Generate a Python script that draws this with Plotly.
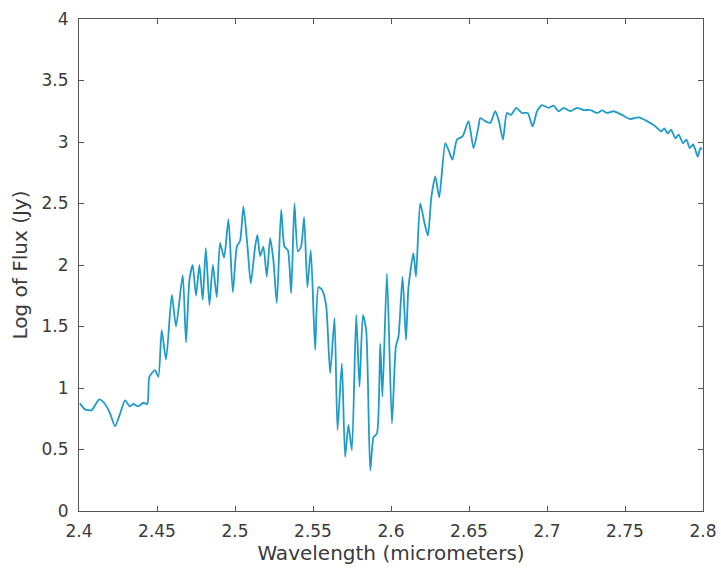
import plotly.graph_objects as go

wavelength = [
    2.4006, 2.4038, 2.4081, 2.4130, 2.4167, 2.4199, 2.4231, 2.4263, 2.4295, 2.4327,
    2.4348, 2.4380, 2.4412, 2.4438, 2.4451, 2.4487, 2.4509, 2.4530, 2.4558, 2.4595,
    2.4622, 2.4665, 2.4686, 2.4708, 2.4729, 2.4750, 2.4772, 2.4793, 2.4813, 2.4836,
    2.4858, 2.4883, 2.4904, 2.4930, 2.4958, 2.4986, 2.5012, 2.5033, 2.5054, 2.5080,
    2.5101, 2.5129, 2.5144, 2.5161, 2.5182, 2.5204, 2.5225, 2.5246, 2.5268, 2.5296,
    2.5317, 2.5339, 2.5360, 2.5381, 2.5403, 2.5424, 2.5443, 2.5464, 2.5486, 2.5514,
    2.5535, 2.5557, 2.5584, 2.5610, 2.5638, 2.5657, 2.5685, 2.5706, 2.5727, 2.5749,
    2.5777, 2.5798, 2.5820, 2.5841, 2.5867, 2.5888, 2.5910, 2.5931, 2.5945, 2.5974,
    2.6006, 2.6031, 2.6048, 2.6074, 2.6096, 2.6112, 2.6144, 2.6160, 2.6187, 2.6215,
    2.6237, 2.6258, 2.6284, 2.6309, 2.6348, 2.6373, 2.6394, 2.6423, 2.6459, 2.6497,
    2.6529, 2.6561, 2.6572, 2.6604, 2.6636, 2.6668, 2.6690, 2.6718, 2.6743, 2.6769,
    2.6803, 2.6840, 2.6876, 2.6908, 2.6936, 2.6968, 2.7010, 2.7042, 2.7074, 2.7107,
    2.7150, 2.7192, 2.7235, 2.7278, 2.7321, 2.7353, 2.7385, 2.7427, 2.7481, 2.7534,
    2.7588, 2.7641, 2.7695, 2.7731, 2.7752, 2.7774, 2.7795, 2.7823, 2.7844, 2.7872,
    2.7894, 2.7915, 2.7936, 2.7951, 2.7966, 2.7983, 2.7994,
]

log_flux = [
    0.875, 0.826, 0.820, 0.907, 0.870, 0.793, 0.690, 0.790, 0.900, 0.850,
    0.870, 0.850, 0.880, 0.870, 1.090, 1.146, 1.090, 1.470, 1.230, 1.757,
    1.500, 1.920, 1.370, 1.880, 2.000, 1.750, 2.000, 1.716, 2.137, 1.675,
    2.000, 1.740, 2.180, 2.060, 2.370, 1.780, 2.150, 2.200, 2.476, 2.150,
    1.850, 2.150, 2.245, 2.070, 2.150, 1.905, 2.218, 2.040, 1.690, 2.450,
    2.150, 2.120, 1.770, 2.500, 2.110, 2.150, 2.390, 1.820, 2.120, 1.310,
    1.820, 1.800, 1.675, 1.120, 1.567, 0.657, 1.200, 0.440, 0.700, 0.494,
    1.594, 1.010, 1.594, 1.470, 0.330, 0.600, 0.630, 1.360, 0.930, 1.930,
    0.710, 1.335, 1.417, 1.906, 1.390, 1.820, 2.096, 1.905, 2.503, 2.340,
    2.240, 2.544, 2.720, 2.550, 2.990, 2.920, 2.856, 3.020, 3.046, 3.170,
    2.950, 3.127, 3.195, 3.170, 3.155, 3.250, 3.180, 3.020, 3.236, 3.220,
    3.277, 3.236, 3.236, 3.127, 3.250, 3.300, 3.277, 3.295, 3.250, 3.277,
    3.250, 3.277, 3.260, 3.260, 3.236, 3.257, 3.236, 3.250, 3.220, 3.187,
    3.200, 3.170, 3.127, 3.086, 3.110, 3.070, 3.100, 3.030, 3.060, 2.990,
    3.020, 2.950, 2.980, 2.937, 2.880, 2.950, 2.940,
]

x_ticks = [2.4, 2.45, 2.5, 2.55, 2.6, 2.65, 2.7, 2.75, 2.8]
x_tick_labels = ["2.4", "2.45", "2.5", "2.55", "2.6", "2.65", "2.7", "2.75", "2.8"]
y_ticks = [0, 0.5, 1, 1.5, 2, 2.5, 3, 3.5, 4]
y_tick_labels = ["0", "0.5", "1", "1.5", "2", "2.5", "3", "3.5", "4"]

fig = go.Figure()
fig.add_trace(go.Scatter(
    x=wavelength, y=log_flux, mode="lines",
    line=dict(color="#1f9bc9", width=1.8, shape="spline", smoothing=0.6),
    showlegend=False, hoverinfo="x+y",
))

axis_common = dict(
    showgrid=False, zeroline=False, showline=True, linecolor="#555555", linewidth=1.2,
    mirror="ticks", ticks="inside", ticklen=5, tickwidth=1, tickcolor="#555555",
    tickfont=dict(family="DejaVu Sans", size=17, color="#3a3a3a"),
    automargin=False,
)

fig.update_layout(
    width=721, height=574,
    margin=dict(l=79, r=18, t=19, b=63),
    paper_bgcolor="white", plot_bgcolor="white",
    xaxis=dict(
        range=[2.4, 2.8], tickvals=x_ticks, ticktext=x_tick_labels,
        title=dict(text="Wavelength (micrometers)", standoff=4,
                   font=dict(family="DejaVu Sans", size=20, color="#3a3a3a")),
        ticklabelstandoff=4,
        **axis_common,
    ),
    yaxis=dict(
        range=[0, 4], tickvals=y_ticks, ticktext=y_tick_labels,
        title=dict(text="Log of Flux (Jy)", standoff=8,
                   font=dict(family="DejaVu Sans", size=20, color="#3a3a3a")),
        ticklabelstandoff=6,
        **axis_common,
    ),
)

fig.write_html("out.html")
